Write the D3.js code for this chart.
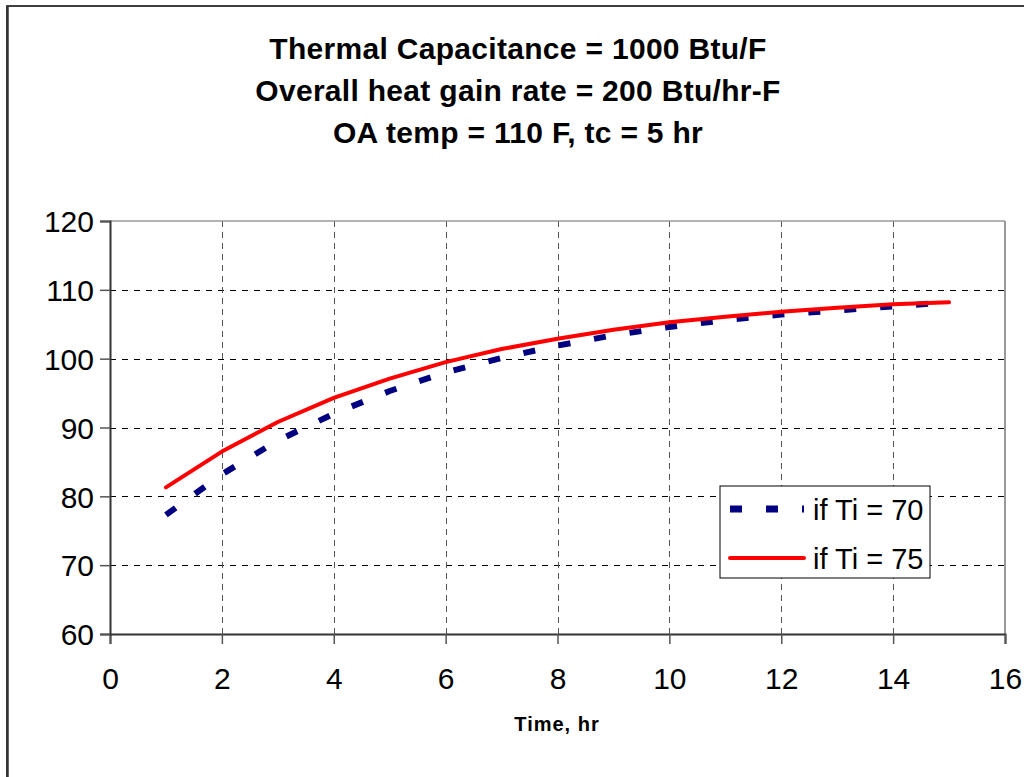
<!DOCTYPE html>
<html>
<head>
<meta charset="utf-8">
<script src="https://cdn.jsdelivr.net/npm/d3@7"></script>
<style>
  body { margin: 0; background: #fff; }
  svg { display: block; font-family: "Liberation Sans", Arial, sans-serif; }
</style>
</head>
<body>
<svg id="chart" width="1024" height="777"></svg>
<script>
// chart values
const titleLines = ['Thermal Capacitance = 1000 Btu/F', 'Overall heat gain rate = 200 Btu/hr-F', 'OA temp = 110 F, tc = 5 hr']
const hours = [1, 2, 3, 4, 5, 6, 7, 8, 9, 10, 11, 12, 13, 14, 15]
const temp70 = [77.3, 83.2, 88.1, 92.0, 95.3, 98.0, 100.1, 101.9, 103.4, 104.6, 105.6, 106.4, 107.0, 107.6, 108.2]
const temp75 = [81.3, 86.5, 90.8, 94.3, 97.1, 99.5, 101.4, 102.9, 104.2, 105.3, 106.1, 106.8, 107.4, 107.9, 108.2]
const xTicks = [0, 2, 4, 6, 8, 10, 12, 14, 16]
const yTicks = [60, 70, 80, 90, 100, 110, 120]
const seriesNames = ['if Ti = 70', 'if Ti = 75']

const svg = d3.select('#chart')

// outer chart frame
svg.append('rect')
  .attr('x', 7).attr('y', 6)
  .attr('width', 1040).attr('height', 800)
  .attr('fill', '#fff')
  .attr('stroke', '#000').attr('stroke-width', 1.5)
svg.append('line')
  .attr('x1', 7.5).attr('x2', 7.5).attr('y1', 6).attr('y2', 777)
  .attr('stroke', '#333').attr('stroke-width', 2.5)

const x = d3.scaleLinear().domain([0, 16]).range([110, 1005])
const y = d3.scaleLinear().domain([60, 120]).range([634, 221])

// title
svg.append('g').selectAll('text')
  .data(titleLines)
  .join('text')
  .attr('x', 518)
  .attr('y', (d, i) => 59 + i * 42)
  .attr('text-anchor', 'middle')
  .style('font-size', '30px')
  .style('font-weight', 'bold')
  .style('letter-spacing', '0.3px')
  .text(d => d)

// gridlines
svg.append('g').selectAll('line')
  .data(yTicks.filter(v => v > 60 && v < 120))
  .join('line')
  .attr('x1', x(0)).attr('x2', x(16))
  .attr('y1', d => Math.round(y(d)) + 0.5).attr('y2', d => Math.round(y(d)) + 0.5)
  .attr('stroke', '#000').attr('stroke-dasharray', '6,6')

svg.append('g').selectAll('line')
  .data(xTicks.filter(v => v > 0 && v < 16))
  .join('line')
  .attr('x1', d => Math.round(x(d)) + 0.5).attr('x2', d => Math.round(x(d)) + 0.5)
  .attr('y1', y(120)).attr('y2', y(60))
  .attr('stroke', '#555').attr('stroke-dasharray', '6,5')

// plot area top and right edges
svg.append('line')
  .attr('x1', x(0)).attr('x2', x(16)).attr('y1', y(120)).attr('y2', y(120))
  .attr('stroke', '#999').attr('stroke-width', 1.5)
svg.append('line')
  .attr('x1', x(16)).attr('x2', x(16)).attr('y1', y(120)).attr('y2', y(60))
  .attr('stroke', '#999').attr('stroke-width', 2)

// axes
const xAxis = d3.axisBottom(x).tickValues(xTicks).tickSize(10).tickPadding(24)
const yAxis = d3.axisLeft(y).tickValues(yTicks).tickSize(10).tickPadding(6)

const gx = svg.append('g').attr('transform', `translate(0,${y(60)})`).call(xAxis)
const gy = svg.append('g').attr('transform', `translate(${x(0)},0)`).call(yAxis)

;[gx, gy].forEach(g => {
  g.select('.domain').attr('stroke', '#333').attr('stroke-width', 2)
  g.selectAll('.tick line').attr('stroke', '#555').attr('stroke-width', 1.5)
  g.selectAll('.tick text')
    .attr('fill', '#000')
    .style('font-size', '30px')
    .style('font-family', '"Liberation Sans", Arial, sans-serif')
})
gy.selectAll('.tick text').attr('dy', '0.36em')

// axis title
svg.append('text')
  .attr('x', 557).attr('y', 731)
  .attr('text-anchor', 'middle')
  .style('font-size', '20px')
  .style('font-weight', 'bold')
  .style('letter-spacing', '1px')
  .text('Time, hr')

// series lines
const line = d3.line()
  .x(d => x(d[0]))
  .y(d => y(d[1]))

svg.append('path')
  .datum(hours.map((h, i) => [h, temp70[i]]))
  .attr('d', line)
  .attr('fill', 'none')
  .attr('stroke', '#000080')
  .attr('stroke-width', 6)
  .attr('stroke-dasharray', '12,24')

svg.append('path')
  .datum(hours.map((h, i) => [h, temp75[i]]))
  .attr('d', line)
  .attr('fill', 'none')
  .attr('stroke', '#ff0000')
  .attr('stroke-width', 4)
  .attr('stroke-linecap', 'round')
  .attr('stroke-linejoin', 'round')

// legend
const legend = svg.append('g').attr('transform', 'translate(720,486)')
legend.append('rect')
  .attr('width', 210).attr('height', 92)
  .attr('fill', '#fff').attr('stroke', '#000').attr('stroke-width', 1)

legend.append('line')
  .attr('x1', 10).attr('x2', 84).attr('y1', 23).attr('y2', 23)
  .attr('stroke', '#000080').attr('stroke-width', 7)
  .attr('stroke-dasharray', '12,24')
legend.append('line')
  .attr('x1', 10).attr('x2', 84).attr('y1', 72).attr('y2', 72)
  .attr('stroke', '#ff0000').attr('stroke-width', 4)
  .attr('stroke-linecap', 'round')

legend.selectAll('text.lab')
  .data(seriesNames)
  .join('text')
  .attr('class', 'lab')
  .attr('x', 93)
  .attr('y', (d, i) => 34 + i * 49)
  .style('font-size', '29px')
  .text(d => d)
</script>
</body>
</html>
